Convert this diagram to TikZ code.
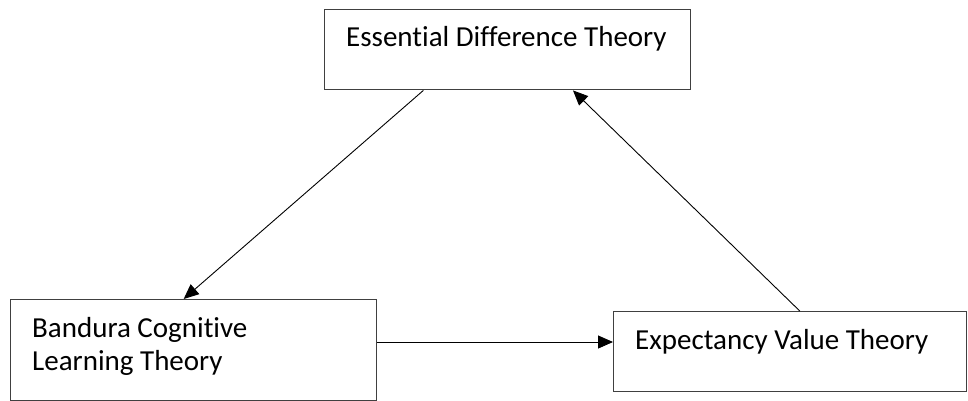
\documentclass[tikz,border=0pt]{standalone}
\usepackage{fontspec}
\setmainfont{Carlito}[Ligatures={NoCommon}]
\usetikzlibrary{arrows.meta,calc}
\begin{document}
\begin{tikzpicture}[x=1pt,y=-1pt,
  theorybox/.style={draw=black!75,line width=1.4pt,rectangle,inner sep=0pt,anchor=north west},
  boxtext/.style={font=\fontsize{29}{33}\selectfont,inner sep=0pt,anchor=base west,align=left},
  link/.style={draw=black,line width=0.9pt,-{Triangle[length=15pt,width=13pt]}}]
\useasboundingbox (0,0) rectangle (968,401);
\node[theorybox,minimum width=366pt,minimum height=80pt] (ed) at (324,9) {};
\node[theorybox,minimum width=366pt,minimum height=101pt] (bc) at (10,299) {};
\node[theorybox,minimum width=353pt,minimum height=80pt] (ev) at (613,311) {};
\node[boxtext] (edt) at (346,47) {Essential Difference Theory};
\node[boxtext] (bct) at (32,370) {Bandura Cognitive\\Learning Theory};
\node[boxtext] (evt) at (635,349) {Expectancy Value Theory};
\coordinate (a1s) at ($(ed.south west)!0.2705!(ed.south east)$);
\coordinate (a1e) at ($(bc.north west)!0.4727!(bc.north east)$);
\coordinate (a2s) at ($(bc.north east)!0.42!(bc.south east)$);
\coordinate (a3s) at ($(ev.north west)!0.527!(ev.north east)$);
\coordinate (a3e) at ($(ed.south west)!0.6776!(ed.south east)$);
\draw[link] (a1s) -- (a1e);
\draw[link] (a2s) -- (a2s -| ev.west);
\draw[link] (a3s) -- (a3e);
\end{tikzpicture}
\end{document}
